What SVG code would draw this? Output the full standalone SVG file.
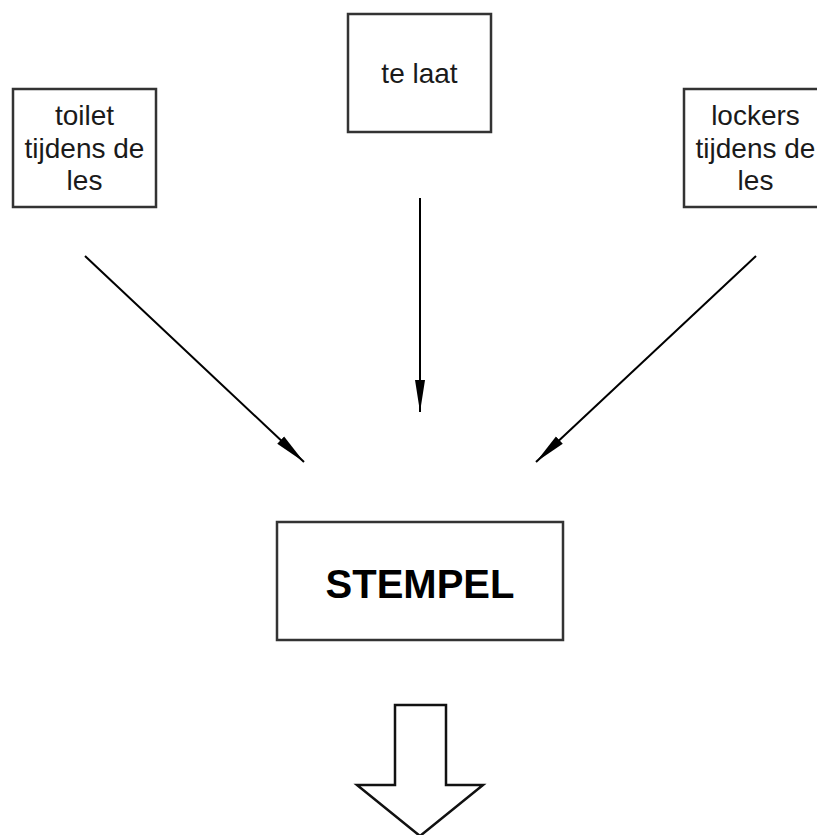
<svg xmlns="http://www.w3.org/2000/svg" width="817" height="835" viewBox="0 0 817 835">
<style>
.box{fill:#fff;stroke:#333;stroke-width:2.5}
.lbl{font-family:"Liberation Sans",Arial,sans-serif;font-size:28px;fill:#1a1a1a;text-anchor:middle}
.big{font-family:"Liberation Sans",Arial,sans-serif;font-size:40px;font-weight:bold;fill:#000;text-anchor:middle}
.con{stroke:#000;stroke-width:2;fill:none;marker-end:url(#ah)}
</style>
<defs>
<marker id="ah" markerUnits="userSpaceOnUse" markerWidth="34" markerHeight="14" refX="32" refY="6" orient="auto" viewBox="0 0 34 12">
<path d="M0,1 L32,6 L0,11 Z" fill="#000"/>
</marker>
</defs>
<rect width="817" height="835" fill="#fff"/>
<g id="toilet">
<rect class="box" x="13" y="89" width="143" height="118"/>
<text class="lbl" x="84.5" y="125">toilet</text>
<text class="lbl" x="84.5" y="158">tijdens de</text>
<text class="lbl" x="84.5" y="190">les</text>
</g>
<g id="telaat">
<rect class="box" x="348" y="14" width="143" height="118"/>
<text class="lbl" x="419.5" y="83">te laat</text>
</g>
<g id="lockers">
<rect class="box" x="684" y="89" width="143" height="118"/>
<text class="lbl" x="755.5" y="125">lockers</text>
<text class="lbl" x="755.5" y="158">tijdens de</text>
<text class="lbl" x="755.5" y="190">les</text>
</g>
<g id="stempel">
<rect class="box" x="277" y="522" width="286" height="118"/>
<text class="big" x="420" y="598">STEMPEL</text>
</g>
<g id="connectors">
<line class="con" x1="85" y1="256" x2="304" y2="462"/>
<line class="con" x1="420" y1="198" x2="420" y2="412"/>
<line class="con" x1="756" y1="256" x2="536" y2="462"/>
</g>
<g id="blockarrow">
<path d="M395,705 L446,705 L446,785 L483,785 L420,836 L357,785 L395,785 Z" fill="#fff" stroke="#111" stroke-width="2.5" stroke-linejoin="miter"/>
</g>
</svg>
